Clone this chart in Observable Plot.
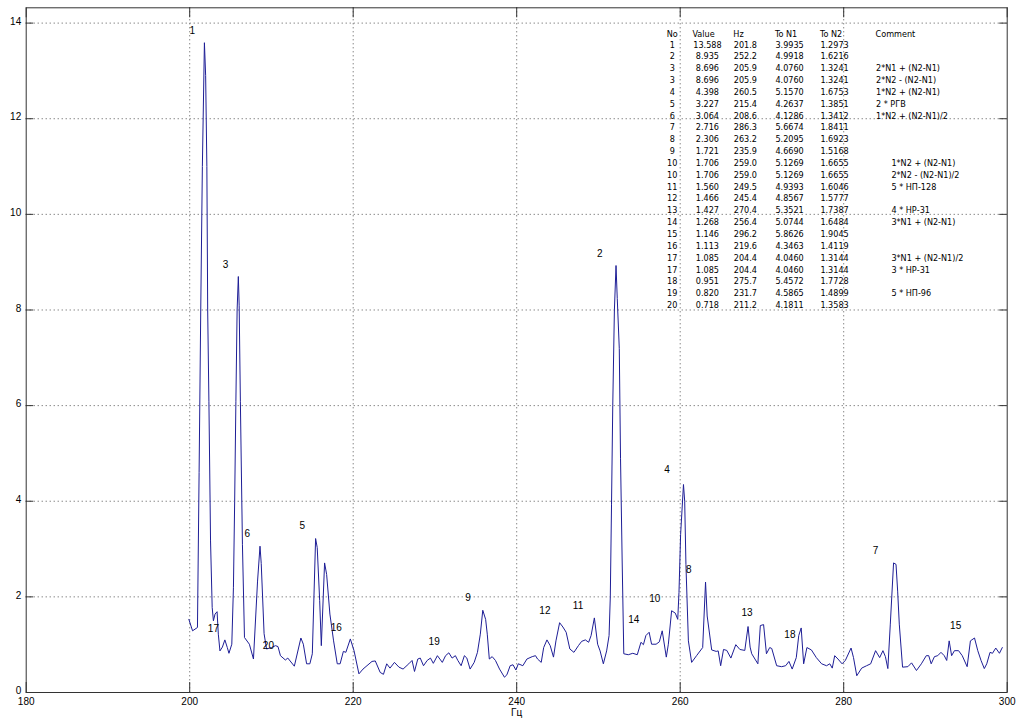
<!DOCTYPE html>
<html><head><meta charset="utf-8">
<script src="https://cdn.jsdelivr.net/npm/d3@7"></script>
<script src="https://cdn.jsdelivr.net/npm/@observablehq/plot@0.6"></script>
<style>
html,body{margin:0;padding:0;background:#fff;}
</style></head><body><div id="chart"></div>
<script>
// Spectrum trace: [Hz, amplitude]
const spectrum = [
[199.9,1.53],[200.35,1.29],[200.95,1.36],[201.15,4.6],[201.35,8.0],[201.55,11.0],[201.8,13.59],[201.95,12.9],[202.1,11.0],[202.2,8.0],
[202.35,6.08],[202.55,3.17],[202.75,1.78],[202.9,1.5],[203.1,1.64],[203.35,1.69],[203.5,1.22],[203.7,0.87],[204.0,0.95],[204.3,1.1],
[204.6,0.94],[204.8,0.82],[205.15,1.01],[205.35,2.19],[205.5,4.0],[205.65,6.08],[205.8,8.0],[205.95,8.70],[206.05,8.1],[206.2,6.08],
[206.45,3.1],[206.7,1.15],[207.3,1.01],[207.8,0.70],[208.3,2.33],[208.6,3.06],[208.75,2.7],[209.1,1.23],[209.4,0.91],[210.0,0.94],
[210.5,0.98],[210.8,0.96],[211.1,0.77],[211.7,0.68],[212.0,0.72],[212.8,0.55],[213.6,1.14],[213.9,1.01],[214.3,0.60],[214.7,0.60],
[215.0,0.81],[215.4,3.22],[215.6,3.03],[215.9,1.92],[216.1,0.98],[216.5,2.71],[216.75,2.47],[217.15,1.64],[217.6,1.08],[218.05,0.60],
[218.4,0.60],[218.8,0.86],[219.1,0.84],[219.65,1.12],[220.1,0.875],[220.7,0.39],[221.2,0.49],[222.3,0.65],[222.7,0.66],[223.3,0.42],
[223.7,0.38],[224.1,0.60],[224.5,0.51],[225.05,0.63],[225.6,0.53],[226.1,0.49],[226.8,0.60],[227.2,0.67],[227.5,0.44],[227.9,0.70],
[228.2,0.72],[228.6,0.56],[229.05,0.67],[229.45,0.72],[229.8,0.61],[230.3,0.77],[230.6,0.70],[230.9,0.63],[231.3,0.77],[231.7,0.83],
[232.1,0.72],[232.5,0.77],[232.8,0.67],[233.2,0.56],[233.6,0.77],[233.9,0.72],[234.3,0.49],[234.8,0.63],[235.2,0.84],[235.55,1.22],
[235.85,1.72],[236.2,1.53],[236.4,1.22],[236.65,0.70],[237.0,0.75],[237.4,0.67],[237.9,0.49],[238.5,0.32],[238.8,0.37],[239.2,0.56],
[239.55,0.58],[239.9,0.47],[240.2,0.60],[240.75,0.56],[241.25,0.70],[241.9,0.75],[242.3,0.77],[242.55,0.70],[243.0,0.63],[243.3,0.94],
[243.7,1.10],[244.1,0.98],[244.5,0.74],[244.8,1.08],[245.25,1.46],[245.65,1.37],[246.05,1.26],[246.5,0.91],[247.0,0.84],[247.55,0.98],
[247.95,1.07],[248.4,1.10],[248.8,1.05],[249.1,1.19],[249.5,1.56],[249.9,1.01],[250.2,0.87],[250.6,0.60],[251.0,0.87],[251.3,1.19],
[251.45,2.0],[251.6,3.94],[251.75,6.0],[251.95,8.0],[252.15,8.93],[252.3,8.24],[252.55,7.19],[252.7,4.9],[252.9,2.75],[253.1,0.81],
[253.65,0.79],[254.2,0.82],[254.75,0.79],[255.2,1.05],[255.5,1.0],[255.8,1.19],[256.2,1.26],[256.5,1.01],[257.05,1.01],[257.45,1.06],
[257.8,1.29],[258.3,0.74],[258.55,1.01],[258.95,1.71],[259.4,1.66],[259.7,1.53],[259.85,2.09],[260.05,3.3],[260.4,4.35],[260.55,4.0],
[260.7,2.68],[261.0,1.08],[261.4,0.63],[262.0,0.77],[262.75,0.94],[263.1,2.31],[263.3,1.6],[263.85,0.89],[264.4,0.86],[264.65,0.87],
[264.95,0.56],[265.3,0.9],[265.7,0.88],[266.2,0.72],[266.8,1.0],[267.3,0.9],[267.9,0.88],[268.3,1.38],[268.55,0.95],[268.75,0.81],
[269.5,0.6],[269.8,1.4],[270.2,1.42],[270.55,0.81],[270.95,0.94],[271.2,0.92],[271.8,0.56],[272.4,0.54],[272.9,0.56],[273.3,0.65],
[273.7,0.49],[274.2,0.73],[274.5,1.19],[274.8,1.35],[275.1,0.6],[275.5,0.94],[276.05,0.89],[276.65,0.73],[277.3,0.6],[277.9,0.56],
[278.3,0.6],[278.6,0.51],[278.9,0.77],[279.3,0.7],[279.8,0.6],[280.2,0.67],[280.9,0.93],[281.2,0.73],[281.6,0.35],[282.2,0.51],
[282.8,0.56],[283.3,0.6],[283.9,0.875],[284.4,0.73],[284.8,0.875],[285.1,0.75],[285.4,0.5],[285.7,1.43],[286.1,2.71],[286.4,2.68],
[286.6,2.12],[286.8,1.43],[287.2,0.53],[287.85,0.54],[288.3,0.62],[288.9,0.46],[289.5,0.6],[290.1,0.77],[290.4,0.77],[290.7,0.6],
[291.1,0.75],[291.5,0.77],[291.9,0.84],[292.3,0.77],[292.6,0.67],[292.9,1.08],[293.2,0.77],[293.55,0.875],[294.05,0.875],[294.5,0.77],
[295.1,0.54],[295.5,1.08],[296.0,1.14],[296.4,0.875],[296.8,0.67],[297.2,0.5],[297.5,0.6],[297.9,0.84],[298.2,0.82],[298.6,0.93],
[299.05,0.82],[299.4,0.94]
];

const xTicks = [180, 200, 220, 240, 260, 280, 300];
const yTicks = [0, 2, 4, 6, 8, 10, 12, 14];

// Peak table
const peakNo    = [1, 2, 3, 3, 4, 5, 6, 7, 8, 9, 10, 10, 11, 12, 13, 14, 15, 16, 17, 17, 18, 19, 20];
const peakValue = [13.588, 8.935, 8.696, 8.696, 4.398, 3.227, 3.064, 2.716, 2.306, 1.721, 1.706, 1.706, 1.560, 1.466, 1.427, 1.268, 1.146, 1.113, 1.085, 1.085, 0.951, 0.820, 0.718];
const peakHz    = [201.8, 252.2, 205.9, 205.9, 260.5, 215.4, 208.6, 286.3, 263.2, 235.9, 259.0, 259.0, 249.5, 245.4, 270.4, 256.4, 296.2, 219.6, 204.4, 204.4, 275.7, 231.7, 211.2];
const toN1      = [3.9935, 4.9918, 4.0760, 4.0760, 5.1570, 4.2637, 4.1286, 5.6674, 5.2095, 4.6690, 5.1269, 5.1269, 4.9393, 4.8567, 5.3521, 5.0744, 5.8626, 4.3463, 4.0460, 4.0460, 5.4572, 4.5865, 4.1811];
const toN2      = [1.2973, 1.6216, 1.3241, 1.3241, 1.6753, 1.3851, 1.3412, 1.8411, 1.6923, 1.5168, 1.6655, 1.6655, 1.6046, 1.5777, 1.7387, 1.6484, 1.9045, 1.4119, 1.3144, 1.3144, 1.7728, 1.4899, 1.3583];
const comments  = ["", "", "2*N1 + (N2-N1)", "2*N2 - (N2-N1)", "1*N2 + (N2-N1)", "2 * РГВ", "1*N2 + (N2-N1)/2", "", "", "",
  "      1*N2 + (N2-N1)", "      2*N2 - (N2-N1)/2", "      5 * НП-128", "", "      4 * НР-31", "      3*N1 + (N2-N1)", "", "",
  "      3*N1 + (N2-N1)/2", "      3 * НР-31", "", "      5 * НП-96", ""];
const headers = ["No", "Value", "Hz", "To N1", "To N2", "Comment"];

const W = 1016, H = 722;
const mL = 25.7, mR = 9.3, mT = 7.3, mB = 30;
const plotH = H - mT - mB, plotW = W - mL - mR;
const nb = s => s.replace(/ /g, "\u00a0");

const line = spectrum.map(([f, a]) => ({f, a}));
const rows = peakNo.map((n, i) => ({
  i, n, v: peakValue[i], f: peakHz[i],
  no: nb(String(n).padStart(2, " ")),
  val: nb(peakValue[i].toFixed(3).padStart(6, " ")),
  hzs: peakHz[i].toFixed(1),
  n1: toN1[i].toFixed(4), n2: toN2[i].toFixed(4), c: nb(comments[i])
}));
const labels = rows.filter((d, i) => i === 0 || rows[i - 1].n !== d.n);

// table layout (data coordinates, as drawn by text() in the original)
const rowY = i => 13.55 - 0.2477 * i;
const headY = 13.77;
const colX = [258.35, 261.5, 266.5, 271.6, 277.1, 283.9];
const tableFont = "'Liberation Sans Narrow', 'DejaVu Sans Condensed', 'Liberation Sans', sans-serif";
const tfs = 9;
const colText = (key, xi) => Plot.text(rows, {x: () => colX[xi] + (xi === 1 ? 0.1 : 0.05), y: d => rowY(d.i), text: key, textAnchor: "start", fontFamily: tableFont, fontSize: tfs, fill: "#000"});

const chart = Plot.plot({
  width: W, height: H,
  marginLeft: mL, marginRight: mR, marginTop: mT, marginBottom: mB,
  style: {fontFamily: "'Liberation Sans', Arial, sans-serif", fontSize: "10px", color: "#000", background: "#fff"},
  x: {domain: [180, 300]},
  y: {domain: [0, 14.32]},
  marks: [
    Plot.gridX(xTicks.slice(1, -1), {stroke: "#555", strokeOpacity: 1, strokeDasharray: "1,3"}),
    Plot.gridY(yTicks.slice(1), {stroke: "#555", strokeOpacity: 1, strokeDasharray: "1,3"}),
    Plot.line(line, {x: "f", y: "a", stroke: "#1e1e96", strokeWidth: 1}),
    Plot.tickX(xTicks, {x: d => d, insetTop: plotH - 10, stroke: "#333"}),
    Plot.tickX(xTicks, {x: d => d, insetBottom: plotH - 10, stroke: "#333"}),
    Plot.tickY(yTicks, {y: d => d, insetRight: plotW - 7.5, stroke: "#333"}),
    Plot.tickY(yTicks, {y: d => d, insetLeft: plotW - 7.5, stroke: "#333"}),
    Plot.frame({stroke: "#333"}),
    Plot.axisX({ticks: xTicks, tickSize: 0, tickPadding: 5, label: null, tickFormat: d => String(d)}),
    Plot.axisY({ticks: yTicks, tickSize: 0, tickPadding: 5, dy: -1.5, label: null, tickFormat: d => String(d)}),
    Plot.text(labels, {x: d => d.f - (1.45 + 0.011 * (d.f - 200)), y: d => d.v + 0.25, text: d => String(d.n), fontSize: 10, fill: "#000"}),
    Plot.text(headers, {x: (d, i) => colX[i], y: () => headY, text: d => d, textAnchor: "start", fontFamily: tableFont, fontSize: tfs, fill: "#000"}),
    colText("no", 0), colText("val", 1), colText("hzs", 2), colText("n1", 3), colText("n2", 4), colText("c", 5),
    Plot.text(["Гц"], {frameAnchor: "bottom", dy: 23, text: d => d, fontSize: 10, fill: "#000"})
  ]
});
document.getElementById("chart").appendChild(chart);
</script></body></html>
